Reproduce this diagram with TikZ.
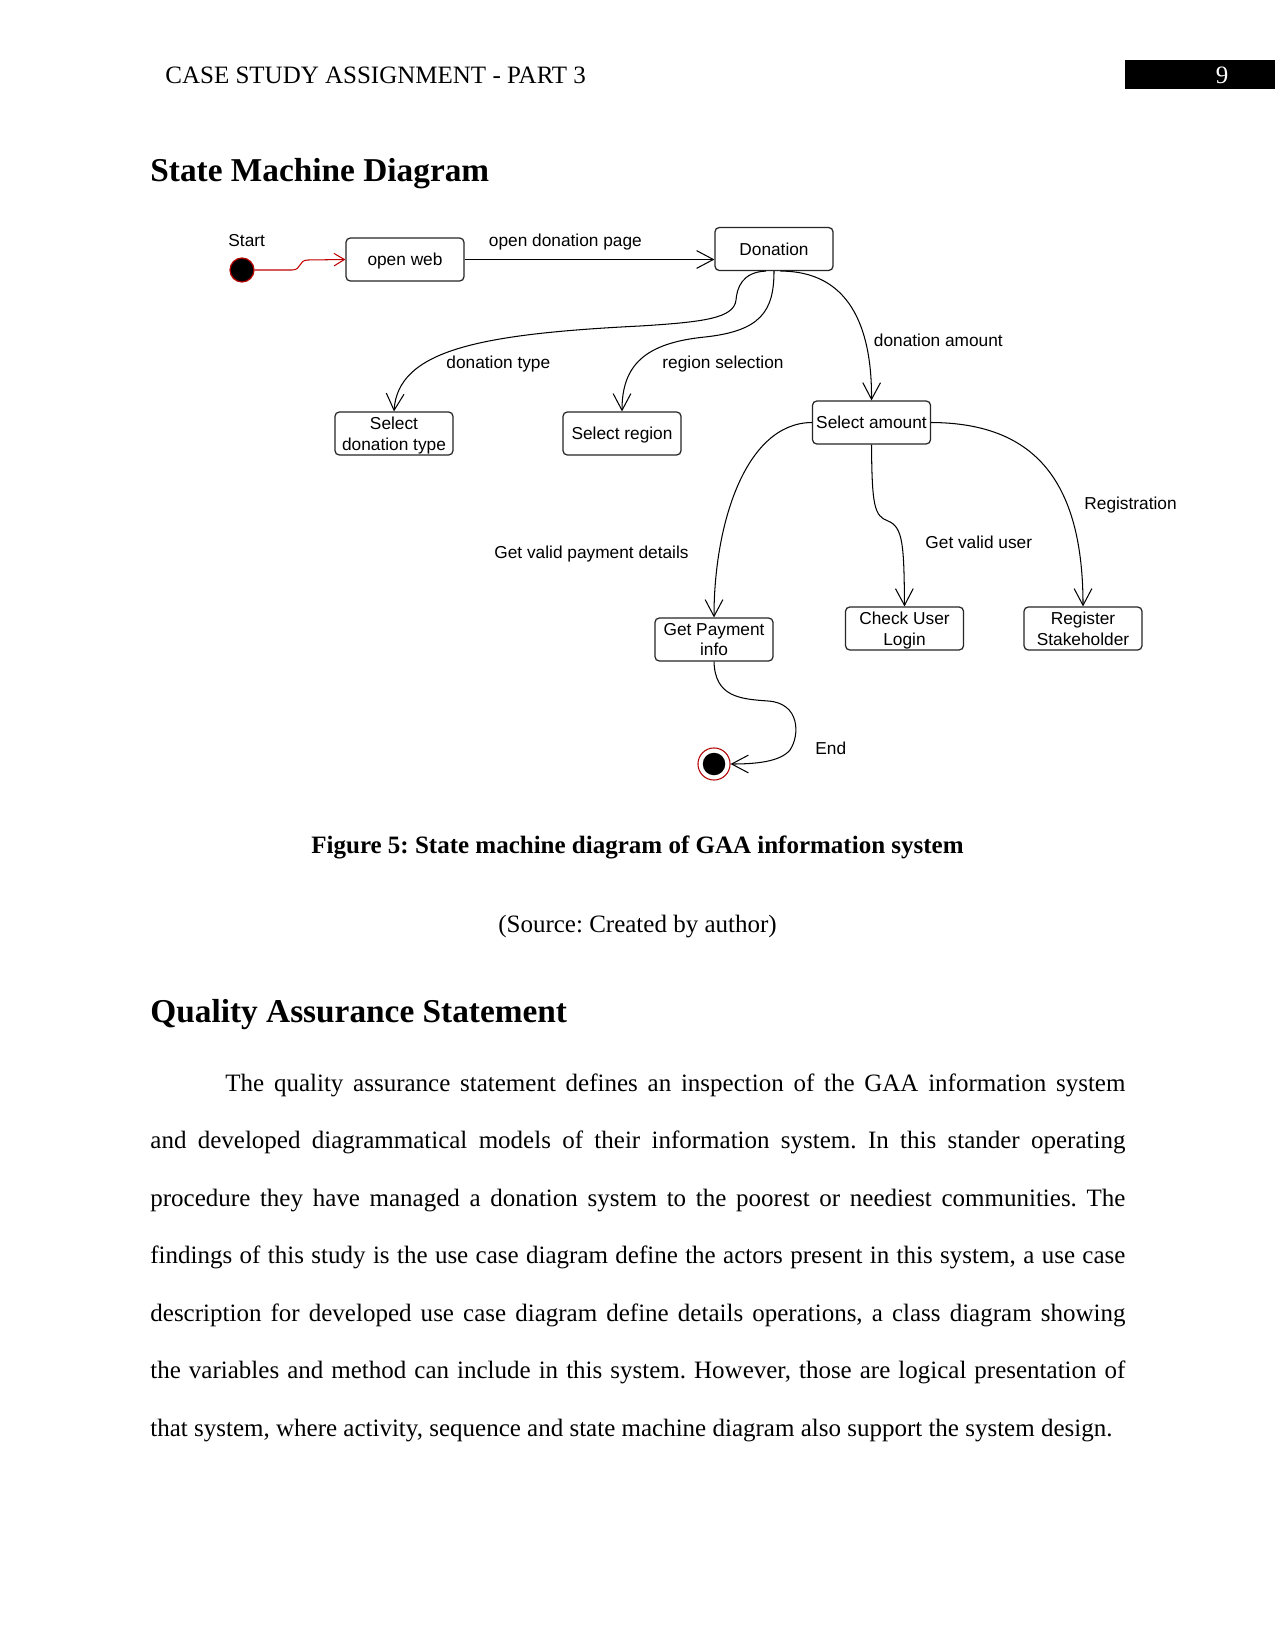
\documentclass[tikz,border=0pt]{standalone}
\usepackage{fontspec}
\setmainfont{Liberation Serif}
\newfontfamily\diagfont{Liberation Sans}
\usetikzlibrary{arrows.meta}
\frenchspacing
\newcommand\bodyline[4]{\node[bodytxt] (#1) at (#2) {\hbox to #3{#4}};}
\begin{document}
\begin{tikzpicture}[x=0.48pt,y=-0.48pt,
  pagetxt/.style={inner sep=0pt, font=\fontsize{12}{14}\selectfont},
  bodytxt/.style={anchor=base west, inner sep=0pt, font=\fontsize{12}{14}\selectfont},
  headtxt/.style={anchor=base west, inner sep=0pt, font=\bfseries\fontsize{16}{19}\selectfont},
  stbox/.style={draw=black!85, line width=0.6pt, rounded corners=2pt, minimum width=56.6pt,
     minimum height=20.6pt, inner sep=0pt, align=center, text depth=0pt, font=\diagfont\fontsize{8.3}{10}\selectfont},
  lbl/.style={anchor=base west, inner sep=0pt, font=\diagfont\fontsize{8.3}{10}\selectfont},
  trans/.style={draw=black, line width=0.5pt, -{Straight Barb[length=8pt,width=8.5pt,line width=0.5pt]}},
  startarr/.style={draw=red!75!black, line width=0.5pt, -{Straight Barb[length=5pt,width=6pt,line width=0.5pt]}}]
\fill[white] (0,0) rectangle (1275,1650);
\useasboundingbox (0,0) rectangle (1275,1650);

% header
\node[pagetxt, anchor=base west] (header) at (165,83.5) {CASE STUDY ASSIGNMENT - PART 3};
\fill[black] (1124.5,60) rectangle (1275,89.5);
\node[pagetxt, anchor=base, text=white] (pagenum) at (1222,83.5) {9};

\node[headtxt] (title1) at (150,182) {State Machine Diagram};

% diagram states
\node[circle, fill=black, draw=red!70!black, line width=0.6pt, minimum size=11.5pt, inner sep=0pt] (startdot) at (242,270) {};
\node[stbox] (openweb) at (405,259.5) {open web};
\node[stbox] (donation) at (774,249) {Donation};
\node[stbox] (seltype) at (394,433.5) {Select\\donation type};
\node[stbox] (selregion) at (622,433.5) {Select region};
\node[stbox] (selamount) at (871.5,422.5) {Select amount};
\node[stbox] (getpay) at (714,639.5) {Get Payment\\info};
\node[stbox] (checkuser) at (904.5,628.5) {Check User\\Login};
\node[stbox] (register) at (1083,628.5) {Register\\Stakeholder};
\node[circle, draw=red!70!black, fill=white, line width=0.5pt, minimum size=15.4pt, inner sep=0pt] (enddot) at (714,764) {};
\fill[black] (enddot.center) circle (5.4pt);

% labels
\node[lbl] (lstart) at (228,247) {Start};
\node[lbl] (lopen) at (488.5,247) {open donation page};
\node[lbl] (ltype) at (446,368.5) {donation type};
\node[lbl] (lregion) at (662,368.5) {region selection};
\node[lbl] (lamount) at (873.5,347) {donation amount};
\node[lbl] (lpay) at (494,558.5) {Get valid payment details};
\node[lbl] (luser) at (925,548.5) {Get valid user};
\node[lbl] (lreg) at (1084,509.5) {Registration};
\node[lbl] (lend) at (815,754) {End};

% transitions
\draw[startarr] (startdot.east) -- (292,270) .. controls (302,270) and (298,260) .. (308,260) -- (openweb.west);
\draw[trans] (openweb.east) -- (openweb.east -| donation.west);
\draw[trans] ([xshift=-3.84pt]donation.south) .. controls (742,272) and (737,288) .. (736,300)
   .. controls (734,318) and (705,322) .. (640,326) .. controls (480,334) and (398,350) .. (seltype.north);
\draw[trans] (donation.south) .. controls (774,312) and (760,331) .. (705,337)
   .. controls (645,343) and (622,365) .. (selregion.north);
\draw[trans] ([xshift=3pt]donation.south) .. controls (848,271) and (872,325) .. (selamount.north);
\draw[trans] (selamount.west) .. controls (745,423) and (714,525) .. (getpay.north);
\draw[trans] (selamount.south) .. controls (872,505) and (874,516) .. (888,521)
   .. controls (903,527) and (904,545) .. (checkuser.north);
\draw[trans] (selamount.east) .. controls (1025,423) and (1083,470) .. (register.north);
\draw[trans] (getpay.south) .. controls (715,697) and (740,699) .. (768,701)
   .. controls (800,703) and (800,735) .. (790,750) .. controls (780,762) and (755,764) .. (enddot.east);

% caption
\node[pagetxt, anchor=base, font=\bfseries\fontsize{12}{14}\selectfont] (caption) at (637.5,853) {Figure 5: State machine diagram of GAA information system};
\node[pagetxt, anchor=base] (source) at (637.5,932) {(Source: Created by author)};

\node[headtxt] (title2) at (150,1022) {Quality Assurance Statement};

\bodyline{l1}{225,1091}{432pt}{The quality assurance statement defines an inspection of the GAA information system}
\bodyline{l2}{150,1148.5}{468pt}{and developed diagrammatical models of their information system. In this stander operating}
\bodyline{l3}{150,1206}{468pt}{procedure they have managed a donation system to the poorest or neediest communities. The}
\bodyline{l4}{150,1263.5}{468pt}{findings of this study is the use case diagram define the actors present in this system, a use case}
\bodyline{l5}{150,1321}{468pt}{description for developed use case diagram define details operations, a class diagram showing}
\bodyline{l6}{150,1378.5}{468pt}{the variables and method can include in this system. However, those are logical presentation of}
\node[bodytxt] (l7) at (150,1436) {that system, where activity, sequence and state machine diagram also support the system design.};
\end{tikzpicture}
\end{document}
